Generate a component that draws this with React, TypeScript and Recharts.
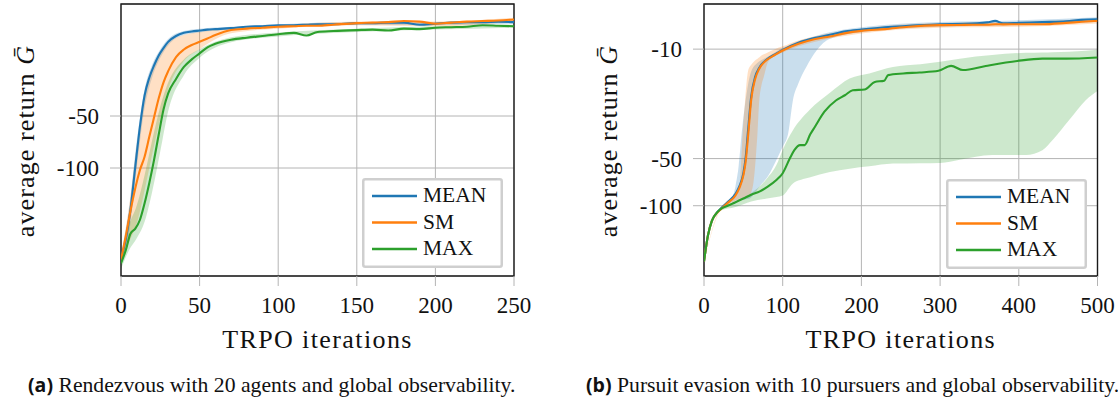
import React from 'react';
import { ComposedChart, Line, Area, XAxis, YAxis, CartesianGrid, ReferenceArea, Legend, Label } from 'recharts';

// ---------- Panel (a): Rendezvous, 20 agents ----------
const itersA = [0, 3, 6, 9, 12, 15, 18, 21, 24, 27, 30, 35, 40, 45, 50, 55, 60, 70, 80, 90, 100, 110, 118, 125, 135, 150, 160, 170, 180, 190, 200, 210, 220, 230, 240, 250];
const meanA = [-332, -260, -175, -100, -58, -38, -30, -25.5, -22.3, -20.2, -18.6, -17.2, -16.5, -16.2, -16.0, -15.8, -15.7, -15.5, -15.2, -15.1, -14.9, -14.9, -14.8, -14.7, -14.7, -14.5, -14.5, -14.4, -14.4, -14.8, -14.6, -14.4, -14.3, -14.3, -14.2, -14.3];
const smA = [-341, -250, -178, -132, -103, -86, -66, -51, -39.5, -32, -27.5, -22.8, -20.6, -19.4, -18.6, -17.8, -17.0, -15.9, -15.6, -15.4, -15.2, -15.1, -15.0, -15.0, -14.8, -14.5, -14.4, -14.3, -14.1, -14.2, -14.6, -14.4, -14.2, -14.1, -14.0, -13.8];
const maxA = [-356, -300, -240, -225, -200, -160, -122, -90, -64, -46, -37, -30.5, -26, -23.5, -21.7, -20.0, -19.1, -18.1, -17.6, -17.2, -16.8, -16.5, -17.1, -16.3, -16.1, -15.9, -15.8, -16.0, -15.6, -15.7, -15.4, -15.3, -15.2, -14.9, -15.0, -15.1];

const bandItersA = [0, 5, 10, 15, 20, 25, 30, 40, 50, 70, 100, 150, 200, 250];
const meanAUpper = [-315, -175, -70, -35, -25, -20.5, -17.9, -16.1, -15.6, -15.2, -14.7, -14.3, -14.3, -14.0];
const meanALower = [-350, -245, -100, -45, -29.5, -23, -19.5, -17.0, -16.4, -15.8, -15.2, -14.8, -14.9, -14.6];
const smAUpper = [-320, -170, -75, -38, -27, -22, -19, -17, -16.3, -15.4, -14.9, -14.2, -14.2, -13.5];
const smALower = [-365, -270, -210, -135, -82, -52, -35, -24, -20.5, -16.6, -15.6, -14.9, -15.1, -14.2];
const maxAUpper = [-330, -215, -165, -110, -68, -44, -32, -23.5, -20.5, -17.5, -16.4, -15.6, -15.1, -14.8];
const maxALower = [-385, -300, -255, -205, -135, -80, -47, -29, -23, -18.7, -17.3, -16.3, -15.8, -15.4];

const xTicksA = [0, 50, 100, 150, 200, 250];
const yTicksA = [-50, -100];

// ---------- Panel (b): Pursuit evasion, 10 pursuers ----------
const itersB = [0, 5, 10, 15, 20, 30, 40, 45, 50, 53, 56, 60, 65, 70, 80, 90, 100, 120, 140, 160, 180, 200, 230, 260, 300, 330, 360, 370, 380, 400, 430, 460, 480, 500];
const meanB = [-227, -155, -125, -113, -106, -95, -84, -75, -62, -49, -33, -20, -15, -13.2, -11.6, -10.8, -10.1, -9.1, -8.5, -8.1, -7.7, -7.5, -7.25, -7.1, -6.93, -6.9, -6.75, -6.6, -6.85, -6.8, -6.72, -6.65, -6.5, -6.45];
const smB = [-227, -155, -125, -113, -107, -96, -86, -77, -64, -52, -36, -21, -15.5, -13.4, -11.7, -10.9, -10.2, -9.25, -8.65, -8.3, -7.9, -7.65, -7.45, -7.2, -7.03, -7.0, -6.98, -6.93, -6.95, -6.93, -6.93, -6.8, -6.69, -6.6];

const itersBMax = [0, 5, 10, 15, 20, 30, 40, 50, 60, 71, 80, 92, 100, 109, 115, 122, 128, 135, 141, 153, 168, 179, 189, 204, 217, 229, 234, 253, 274, 298, 314, 329, 358, 398, 430, 460, 500];
const maxB = [-227, -155, -125, -113, -106, -100, -95, -90, -85, -81, -76, -68.5, -62, -50, -44, -41, -41, -35, -31.3, -25.1, -21.2, -19.7, -18.3, -18.1, -16.2, -15.9, -14.65, -14.3, -14.1, -13.75, -12.8, -13.6, -12.8, -11.9, -11.5, -11.5, -11.3];

const meanBandItersB = [0, 10, 20, 30, 35, 40, 44, 48, 53, 58, 62, 66, 70, 81, 94, 100, 107, 113, 120, 130, 143, 160, 200, 300, 400, 500];
const meanBUpper = [-225, -123, -104, -93, -90, -75, -56, -34, -21, -15, -13.2, -12.5, -12.0, -11.2, -10.2, -9.8, -9.5, -9.2, -8.9, -8.6, -8.2, -7.8, -7.25, -6.7, -6.55, -6.25];
const meanBLower = [-230, -128, -108, -98, -95, -93, -92, -92, -91, -90, -86, -81, -76, -65, -48.6, -42, -34.4, -21.2, -16.5, -13, -10.2, -8.6, -7.8, -7.2, -7.0, -6.7];

const smBandItersB = [0, 20, 30, 40, 45, 47, 49, 52, 56, 60, 63, 66, 68, 70, 73, 76, 81, 90, 100, 120, 140, 200, 300, 400, 500];
const smBUpper = [-225, -105, -93, -85, -75, -55, -35, -22, -13.8, -12.6, -12.1, -11.7, -11.5, -11.3, -11.0, -10.8, -10.5, -10.0, -9.6, -8.8, -8.3, -7.4, -6.8, -6.7, -6.4];
const smBLower = [-230, -109, -99, -93, -91, -90, -90, -89, -87, -82, -70, -48, -34, -22, -17, -15, -12.2, -11.1, -10.5, -9.6, -9.0, -7.95, -7.3, -7.2, -6.85];

const maxBandItersB = [0, 10, 20, 40, 60, 80, 92, 100, 113, 134, 160, 185, 210, 240, 275, 300, 325, 366, 409, 430, 443, 464, 485, 500];
const maxBUpper = [-225, -123, -104, -94, -83, -67, -55, -44, -33, -24.5, -19, -15.4, -14.3, -13, -12.5, -12.05, -11.5, -10.9, -10.55, -10.5, -10.45, -10.4, -10.25, -10.1];
const maxBLower = [-230, -128, -108, -102, -94, -90, -88, -86, -72, -66, -61, -58, -56, -53.8, -53.5, -53.3, -50.8, -47.4, -47.4, -44.2, -38.1, -28.4, -21.2, -18.5];

const xTicksB = [0, 100, 200, 300, 400, 500];
const yTicksB = [-10, -50, -100];

const seriesNames = ['MEAN', 'SM', 'MAX'];
const BLUE = '#1f77b4';
const ORANGE = '#ff7f0e';
const GREEN = '#2ca02c';
const seriesColors = [BLUE, ORANGE, GREEN];

const SERIF = '"Liberation Serif", "DejaVu Serif", serif';
const GRID = '#b4b4b4';

// y axis is log(-G), reversed; values are stored as returns G (negative)
const toLine = (xs: number[], ys: number[]) => xs.map((x, i) => ({ x, v: -ys[i] }));
const toBand = (xs: number[], up: number[], lo: number[]) => xs.map((x, i) => ({ x, r: [-up[i], -lo[i]] }));

const LegendBox = () => (
  <svg width={141} height={90} style={{ display: 'block' }}>
    <rect x={1.25} y={1.25} width={138.5} height={87.5} rx={2} fill="#fff" stroke="#cfcfcf" strokeWidth={2.5} />
    {seriesNames.map((n, i) => {
      const cy = 18 + i * 26.5;
      return (
        <g key={n}>
          <line x1={10} x2={55} y1={cy} y2={cy} stroke={seriesColors[i]} strokeWidth={2.6} />
          <text x={61} y={cy + 6} fontFamily={SERIF} fontSize={21.5} fill="#111">{n}</text>
        </g>
      );
    })}
  </svg>
);

type PanelProps = {
  width: number;
  height: number;
  plotLeft: number;
  plotRight: number;
  xMax: number;
  xTicks: number[];
  yTicks: number[];
  yDomain: [number, number];
  lines: { data: { x: number; v: number }[]; color: string }[];
  bands: { data: { x: number; r: number[] }[]; color: string }[];
  yLabelX: number;
  legendLeft: number;
  legendTop: number;
};

const Panel = (p: PanelProps) => {
  const plotW = p.width - p.plotLeft - p.plotRight;
  return (
    <ComposedChart width={p.width} height={p.height} margin={{ top: 4, right: p.plotRight, left: 0, bottom: 0 }}>
      <CartesianGrid stroke={GRID} strokeWidth={1} />
      <XAxis
        type="number"
        dataKey="x"
        domain={[0, p.xMax]}
        ticks={p.xTicks}
        allowDataOverflow
        height={p.height - 4 - 272}
        axisLine={false}
        tickLine={{ stroke: GRID }}
        tickSize={10}
        tickMargin={11}
        tick={{ fontFamily: SERIF, fontSize: 23, fill: '#111' }}
      >
        <Label
          content={() => (
            <text x={p.plotLeft + plotW / 2} y={348} textAnchor="middle" fontFamily={SERIF} fontSize={26} letterSpacing={1.4} fill="#111">
              TRPO iterations
            </text>
          )}
        />
      </XAxis>
      <YAxis
        type="number"
        scale="log"
        domain={p.yDomain}
        ticks={p.yTicks.map((t) => -t)}
        allowDataOverflow
        reversed
        width={p.plotLeft}
        axisLine={false}
        tickLine={{ stroke: GRID }}
        tickSize={11}
        tickMargin={11}
        tickFormatter={(v: number) => `-${v}`}
        tick={{ fontFamily: SERIF, fontSize: 23, fill: '#111' }}
      >
        <Label
          content={() => (
            <text x={p.yLabelX} y={141} transform={`rotate(-90 ${p.yLabelX} 141)`} textAnchor="middle" fontFamily={SERIF} fontSize={26} letterSpacing={1.1} fill="#111">
              average return <tspan fontStyle="italic">Ḡ</tspan>
            </text>
          )}
        />
      </YAxis>
      {p.bands.map((b, i) => (
        <Area
          key={'b' + i}
          data={b.data}
          dataKey="r"
          type="monotone"
          stroke="none"
          fill={b.color}
          fillOpacity={0.24}
          isAnimationActive={false}
          legendType="none"
        />
      ))}
      {p.lines.map((l, i) => (
        <Line
          key={'l' + i}
          data={l.data}
          dataKey="v"
          type="monotone"
          stroke={l.color}
          strokeWidth={2.1}
          dot={false}
          isAnimationActive={false}
          name={seriesNames[i]}
        />
      ))}
      <ReferenceArea
        x1={0}
        x2={p.xMax}
        y1={p.yDomain[0]}
        y2={p.yDomain[1]}
        fill="none"
        stroke="#1a1a1a"
        strokeWidth={1.4}
        ifOverflow="visible"
      />
      <Legend
        layout="vertical"
        align="center"
        verticalAlign="middle"
        wrapperStyle={{ left: p.legendLeft, top: p.legendTop, width: 141, height: 90 }}
        content={() => <LegendBox />}
      />
    </ComposedChart>
  );
};

export default function App() {
  const linesA = [
    { data: toLine(itersA, meanA), color: BLUE },
    { data: toLine(itersA, smA), color: ORANGE },
    { data: toLine(itersA, maxA), color: GREEN },
  ];
  const bandsA = [
    { data: toBand(bandItersA, meanAUpper, meanALower), color: BLUE },
    { data: toBand(bandItersA, smAUpper, smALower), color: ORANGE },
    { data: toBand(bandItersA, maxAUpper, maxALower), color: GREEN },
  ];
  const linesB = [
    { data: toLine(itersB, meanB), color: BLUE },
    { data: toLine(itersB, smB), color: ORANGE },
    { data: toLine(itersBMax, maxB), color: GREEN },
  ];
  const bandsB = [
    { data: toBand(meanBandItersB, meanBUpper, meanBLower), color: BLUE },
    { data: toBand(smBandItersB, smBUpper, smBLower), color: ORANGE },
    { data: toBand(maxBandItersB, maxBUpper, maxBLower), color: GREEN },
  ];
  const captionStyle: React.CSSProperties = {
    position: 'absolute',
    top: 373,
    fontFamily: SERIF,
    fontSize: 21.7,
    lineHeight: '24px',
    color: '#111',
    whiteSpace: 'nowrap',
  };
  const boldStyle: React.CSSProperties = { fontFamily: '"Open Sans", "Noto Sans", sans-serif', fontWeight: 700, fontSize: 19.5 };
  return (
    <div style={{ position: 'absolute', left: 0, top: 0, width: 1118, height: 400, background: '#fff', overflow: 'hidden' }}>
      <div style={{ position: 'absolute', left: 0, top: 0 }}>
        <Panel
          width={560}
          height={360}
          plotLeft={121}
          plotRight={46}
          xMax={250}
          xTicks={xTicksA}
          yTicks={yTicksA}
          yDomain={[11.23, 422]}
          lines={linesA}
          bands={bandsA}
          yLabelX={34}
          legendLeft={362}
          legendTop={178}
        />
      </div>
      <div style={{ position: 'absolute', left: 560, top: 0 }}>
        <Panel
          width={558}
          height={360}
          plotLeft={144}
          plotRight={20.5}
          xMax={500}
          xTicks={xTicksB}
          yTicks={yTicksB}
          yDomain={[5.15, 281]}
          lines={linesB}
          bands={bandsB}
          yLabelX={57}
          legendLeft={385.5}
          legendTop={178.5}
        />
      </div>
      <div style={{ ...captionStyle, left: 28 }}>
        <span style={boldStyle}>(a)</span> Rendezvous with 20 agents and global observability.
      </div>
      <div style={{ ...captionStyle, left: 586 }}>
        <span style={boldStyle}>(b)</span> Pursuit evasion with 10 pursuers and global observability.
      </div>
    </div>
  );
}
